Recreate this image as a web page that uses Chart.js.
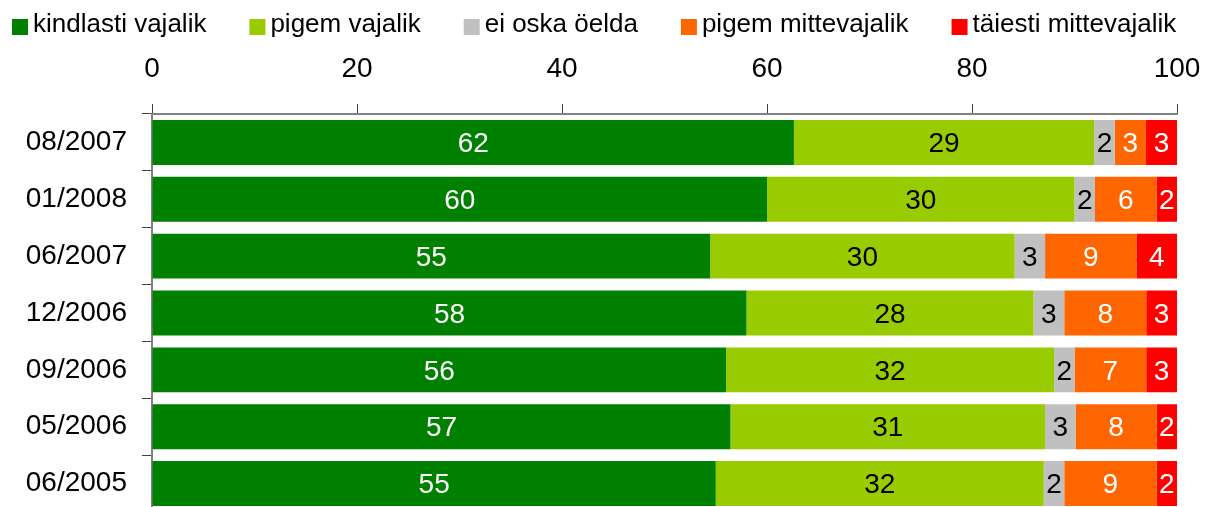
<!DOCTYPE html>
<html>
<head>
<meta charset="utf-8">
<script src="https://cdn.jsdelivr.net/npm/chart.js@4"></script>
<style>
  html, body { margin: 0; padding: 0; background: #fff; overflow: hidden; }
  canvas { display: block; }
</style>
</head>
<body>
<!-- the last row runs slightly past the bottom edge of the view -->
<canvas id="hinnang" width="1214" height="512"></canvas>
<script>
// survey periods, top to bottom
var periods = ['08/2007', '01/2008', '06/2007', '12/2006', '09/2006', '05/2006', '06/2005'];

var kindlastiVajalik = [62, 60, 55, 58, 56, 57, 55];
var pigemVajalik = [29, 30, 30, 28, 32, 31, 32];
var eiOskaOelda = [2, 2, 3, 3, 2, 3, 2];
var pigemMittevajalik = [3, 6, 9, 8, 7, 8, 9];
var taiestiMittevajalik = [3, 2, 4, 3, 3, 2, 2];

var axisTicks = [0, 20, 40, 60, 80, 100];

var seriesNames = ['kindlasti vajalik', 'pigem vajalik', 'ei oska öelda', 'pigem mittevajalik', 'täiesti mittevajalik'];
var seriesValues = [kindlastiVajalik, pigemVajalik, eiOskaOelda, pigemMittevajalik, taiestiMittevajalik];
var fillColors = ['#008000', '#99CC00', '#C0C0C0', '#FF6600', '#FF0000'];
var labelColors = ['#ffffff', '#000000', '#000000', '#ffffff', '#ffffff'];

var FONT = '"Liberation Sans", Arial, sans-serif';

// each row is drawn as share of its own total (100% stacked)
var rowTotals = periods.map(function (p, i) {
    var s = 0;
    seriesValues.forEach(function (arr) { s += arr[i]; });
    return s;
});

var datasets = seriesValues.map(function (arr, k) {
    return {
        label: seriesNames[k],
        data: arr.map(function (v, i) { return v / rowTotals[i] * 100; }),
        raw: arr,
        backgroundColor: fillColors[k],
        borderWidth: 0,
        categoryPercentage: 1,
        barPercentage: 0.79
    };
});

// numbers written in the middle of each segment
var segmentLabels = {
    id: 'segmentLabels',
    afterDatasetsDraw: function (chart) {
        var ctx = chart.ctx;
        ctx.save();
        ctx.font = '28px ' + FONT;
        ctx.textAlign = 'center';
        ctx.textBaseline = 'middle';
        chart.data.datasets.forEach(function (ds, k) {
            var meta = chart.getDatasetMeta(k);
            meta.data.forEach(function (bar, i) {
                var mid = (bar.x + bar.base) / 2;
                ctx.fillStyle = labelColors[k];
                ctx.fillText(String(ds.raw[i]), mid, bar.y + 2);
            });
        });
        ctx.restore();
    }
};

// legend row across the top: square swatch + series name
var topLegend = {
    id: 'topLegend',
    afterDraw: function (chart) {
        var ctx = chart.ctx;
        ctx.save();
        ctx.font = '26px ' + FONT;
        ctx.textBaseline = 'middle';
        ctx.textAlign = 'left';
        var x = 12;
        chart.data.datasets.forEach(function (ds) {
            ctx.fillStyle = ds.backgroundColor;
            ctx.fillRect(x, 19, 16, 16);
            ctx.fillStyle = '#000';
            ctx.fillText(ds.label, x + 21, 25);
            x += 21 + ctx.measureText(ds.label).width + 43;
        });
        ctx.restore();
    }
};

var ctx = document.getElementById('hinnang');
var hinnangChart = new Chart(ctx, {
    type: 'bar',
    data: {
        labels: periods,
        datasets: datasets
    },
    plugins: [segmentLabels, topLegend],
    options: {
        indexAxis: 'y',
        responsive: false,
        animation: false,
        layout: { padding: { left: 0, right: 37, top: 44, bottom: 0 } },
        plugins: {
            tooltip: { enabled: false },
            legend: { display: false }
        },
        scales: {
            x: {
                position: 'top',
                stacked: true,
                min: 0,
                max: 100,
                afterBuildTicks: function (scale) {
                    scale.ticks = axisTicks.map(function (v) { return { value: v }; });
                },
                afterFit: function (scale) {
                    scale.height = 70;
                    scale.paddingLeft = 0;
                    scale.paddingRight = 0;
                },
                border: { display: true, color: '#808080', width: 2 },
                grid: {
                    drawOnChartArea: false,
                    drawTicks: true,
                    tickLength: 10,
                    color: '#404040'
                },
                ticks: {
                    color: '#000',
                    padding: 18,
                    maxRotation: 0,
                    font: { family: FONT, size: 28 }
                }
            },
            y: {
                stacked: true,
                afterFit: function (scale) {
                    scale.width = 152;
                    scale.paddingTop = 0;
                    scale.paddingBottom = 0;
                },
                border: { display: true, color: '#808080', width: 2 },
                grid: {
                    offset: true,
                    drawOnChartArea: false,
                    drawTicks: true,
                    tickLength: 10,
                    color: '#404040'
                },
                ticks: {
                    color: '#000',
                    padding: 15,
                    font: { family: FONT, size: 28 }
                }
            }
        }
    }
});
</script>
</body>
</html>
